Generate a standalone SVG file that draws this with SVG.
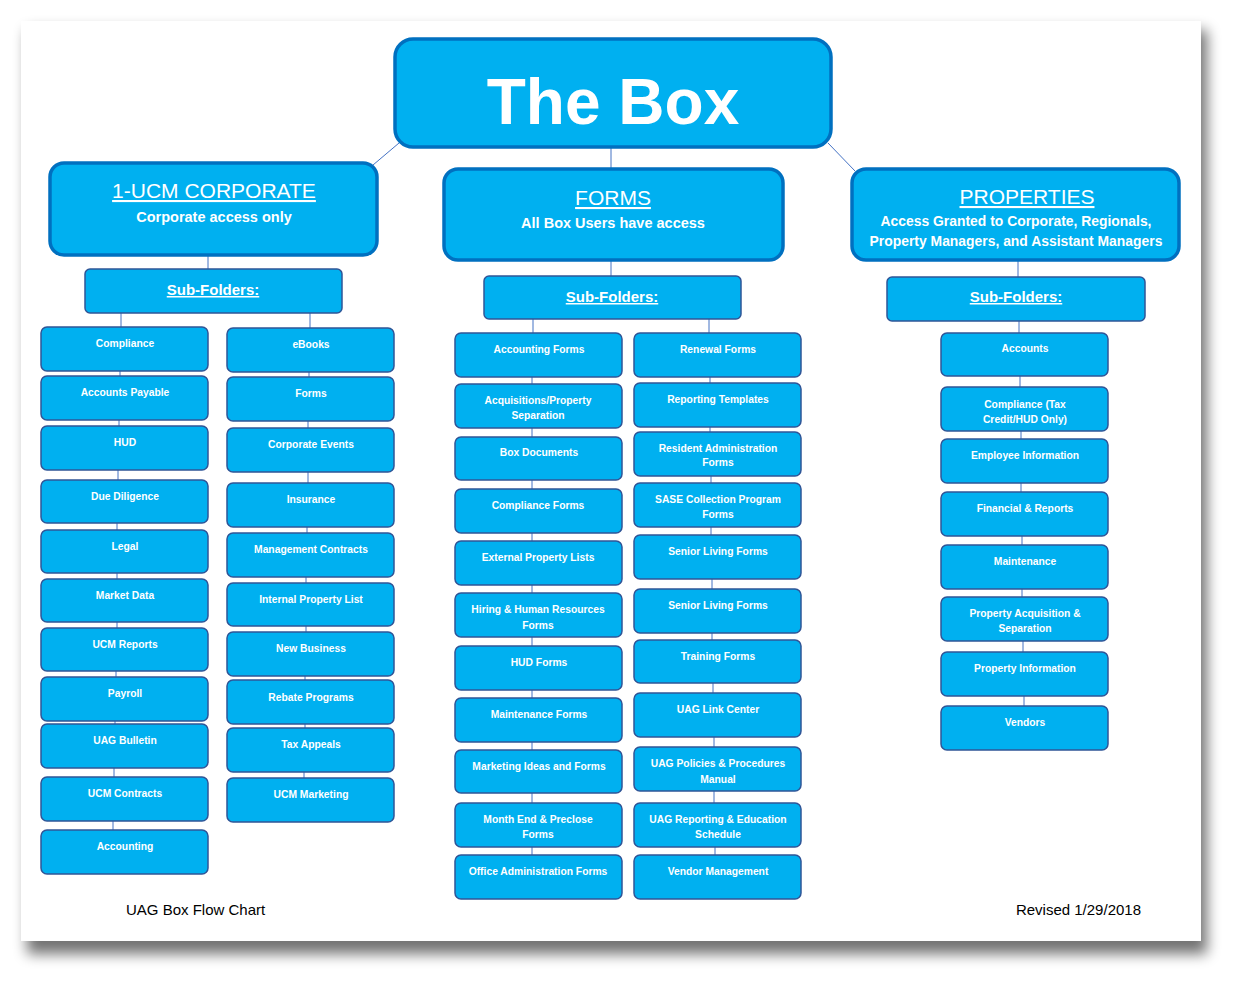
<svg xmlns="http://www.w3.org/2000/svg" width="1243" height="984" viewBox="0 0 1243 984">
<style>
.big{fill:#00b0f0;stroke:#0070c0;stroke-width:3.5}
.sub{fill:#00b0f0;stroke:#2f5597;stroke-width:1.5}
.leaf{fill:#00b0f0;stroke:#2f5597;stroke-width:1.5}
.t{font-family:"Liberation Sans",Arial,sans-serif;fill:#ffffff;text-anchor:middle;font-weight:bold}
.lt{font-size:10.3px}
.hd{font-size:21px;font-weight:normal;text-decoration:underline}
.ds{font-size:14.5px}
.dp{font-size:13.9px}
.sf{font-size:15px;text-decoration:underline}
.ft{font-family:"Liberation Sans",Arial,sans-serif;font-size:15px;fill:#000000}
.c{stroke:#4472c4;stroke-width:1;fill:none}
</style>
<defs>
<filter id="sh" x="-10%" y="-10%" width="120%" height="120%">
<feGaussianBlur stdDeviation="7"/>
</filter>
</defs>
<rect width="1243" height="984" fill="#ffffff"/>
<rect x="27" y="30" width="1180" height="924" fill="#000000" opacity="0.55" filter="url(#sh)"/>
<rect x="21" y="21" width="1180" height="920" fill="#ffffff"/>

<g id="connectors">
<line class="c" x1="399" y1="143" x2="373" y2="165"/>
<line class="c" x1="828" y1="143" x2="855" y2="171"/>
<line class="c" x1="611" y1="147" x2="611" y2="168"/>
<line class="c" x1="208" y1="256" x2="208" y2="269"/>
<line class="c" x1="611" y1="261" x2="611" y2="276"/>
<line class="c" x1="1018" y1="261" x2="1018" y2="277"/>
<line class="c" x1="121" y1="313" x2="121" y2="327"/>
<line class="c" x1="120" y1="371" x2="120" y2="376"/>
<line class="c" x1="119" y1="420" x2="119" y2="426"/>
<line class="c" x1="118" y1="470" x2="118" y2="480"/>
<line class="c" x1="117" y1="523" x2="117" y2="530"/>
<line class="c" x1="117" y1="573" x2="117" y2="579"/>
<line class="c" x1="117" y1="622" x2="117" y2="628"/>
<line class="c" x1="116" y1="671" x2="116" y2="677"/>
<line class="c" x1="115" y1="721" x2="115" y2="724"/>
<line class="c" x1="114" y1="768" x2="114" y2="777"/>
<line class="c" x1="113" y1="821" x2="113" y2="830"/>
<line class="c" x1="310" y1="313" x2="310" y2="328"/>
<line class="c" x1="309" y1="372" x2="309" y2="377"/>
<line class="c" x1="308" y1="421" x2="308" y2="428"/>
<line class="c" x1="308" y1="472" x2="308" y2="483"/>
<line class="c" x1="307" y1="527" x2="307" y2="533"/>
<line class="c" x1="306" y1="577" x2="306" y2="583"/>
<line class="c" x1="306" y1="626" x2="306" y2="632"/>
<line class="c" x1="305" y1="676" x2="305" y2="680"/>
<line class="c" x1="305" y1="724" x2="305" y2="728"/>
<line class="c" x1="304" y1="772" x2="304" y2="778"/>
<line class="c" x1="533" y1="319" x2="533" y2="333"/>
<line class="c" x1="532" y1="377" x2="532" y2="384"/>
<line class="c" x1="532" y1="428" x2="532" y2="437"/>
<line class="c" x1="532" y1="480" x2="532" y2="489"/>
<line class="c" x1="532" y1="533" x2="532" y2="541"/>
<line class="c" x1="532" y1="585" x2="532" y2="593"/>
<line class="c" x1="532" y1="637" x2="532" y2="646"/>
<line class="c" x1="532" y1="690" x2="532" y2="698"/>
<line class="c" x1="532" y1="742" x2="532" y2="750"/>
<line class="c" x1="532" y1="793" x2="532" y2="803"/>
<line class="c" x1="532" y1="847" x2="532" y2="855"/>
<line class="c" x1="709" y1="319" x2="709" y2="333"/>
<line class="c" x1="710" y1="377" x2="710" y2="383"/>
<line class="c" x1="710" y1="427" x2="710" y2="432"/>
<line class="c" x1="711" y1="476" x2="711" y2="483"/>
<line class="c" x1="711" y1="527" x2="711" y2="535"/>
<line class="c" x1="712" y1="579" x2="712" y2="589"/>
<line class="c" x1="712" y1="633" x2="712" y2="640"/>
<line class="c" x1="713" y1="683" x2="713" y2="693"/>
<line class="c" x1="714" y1="737" x2="714" y2="747"/>
<line class="c" x1="714" y1="791" x2="714" y2="803"/>
<line class="c" x1="715" y1="847" x2="715" y2="855"/>
<line class="c" x1="1019" y1="321" x2="1019" y2="333"/>
<line class="c" x1="1020" y1="376" x2="1020" y2="387"/>
<line class="c" x1="1021" y1="431" x2="1021" y2="439"/>
<line class="c" x1="1021" y1="483" x2="1021" y2="492"/>
<line class="c" x1="1022" y1="536" x2="1022" y2="545"/>
<line class="c" x1="1022" y1="589" x2="1022" y2="597"/>
<line class="c" x1="1023" y1="641" x2="1023" y2="652"/>
<line class="c" x1="1024" y1="696" x2="1024" y2="706"/>
</g>

<g id="the-box">
<rect class="big" x="395" y="39" width="436" height="108" rx="18"/>
<text class="t" x="613" y="124" font-size="64">The Box</text>
</g>

<g id="corporate">
<rect class="big" x="50" y="163" width="327" height="92" rx="14"/>
<text class="t hd" x="214" y="198">1-UCM CORPORATE</text>
<text class="t ds" x="214" y="222">Corporate access only</text>
</g>
<g id="forms">
<rect class="big" x="444" y="169" width="339" height="91" rx="14"/>
<text class="t hd" x="613" y="205">FORMS</text>
<text class="t ds" x="613" y="228">All Box Users have access</text>
</g>
<g id="properties">
<rect class="big" x="852" y="169" width="327" height="91" rx="14"/>
<text class="t hd" x="1027" y="204">PROPERTIES</text>
<text class="t dp" x="1016" y="226">Access Granted to Corporate, Regionals,</text>
<text class="t dp" x="1016" y="246">Property Managers, and Assistant Managers</text>
</g>

<g id="corp-subfolders">
<rect class="sub" x="85" y="269" width="257" height="44" rx="5"/>
<text class="t sf" x="213" y="295">Sub-Folders:</text>
</g>
<g id="forms-subfolders">
<rect class="sub" x="484" y="276" width="257" height="43" rx="5"/>
<text class="t sf" x="612" y="302">Sub-Folders:</text>
</g>
<g id="props-subfolders">
<rect class="sub" x="887" y="277" width="258" height="44" rx="5"/>
<text class="t sf" x="1016" y="302">Sub-Folders:</text>
</g>

<g id="c-compliance"><rect class="leaf" x="41" y="327" width="167" height="44" rx="6"/><text class="t lt" x="125" y="347">Compliance</text></g>
<g id="c-accounts-payable"><rect class="leaf" x="41" y="376" width="167" height="44" rx="6"/><text class="t lt" x="125" y="396">Accounts Payable</text></g>
<g id="c-hud"><rect class="leaf" x="41" y="426" width="167" height="44" rx="6"/><text class="t lt" x="125" y="446">HUD</text></g>
<g id="c-due-diligence"><rect class="leaf" x="41" y="480" width="167" height="43" rx="6"/><text class="t lt" x="125" y="500">Due Diligence</text></g>
<g id="c-legal"><rect class="leaf" x="41" y="530" width="167" height="43" rx="6"/><text class="t lt" x="125" y="550">Legal</text></g>
<g id="c-market-data"><rect class="leaf" x="41" y="579" width="167" height="43" rx="6"/><text class="t lt" x="125" y="599">Market Data</text></g>
<g id="c-ucm-reports"><rect class="leaf" x="41" y="628" width="167" height="43" rx="6"/><text class="t lt" x="125" y="648">UCM Reports</text></g>
<g id="c-payroll"><rect class="leaf" x="41" y="677" width="167" height="44" rx="6"/><text class="t lt" x="125" y="697">Payroll</text></g>
<g id="c-uag-bulletin"><rect class="leaf" x="41" y="724" width="167" height="44" rx="6"/><text class="t lt" x="125" y="744">UAG Bulletin</text></g>
<g id="c-ucm-contracts"><rect class="leaf" x="41" y="777" width="167" height="44" rx="6"/><text class="t lt" x="125" y="797">UCM Contracts</text></g>
<g id="c-accounting"><rect class="leaf" x="41" y="830" width="167" height="44" rx="6"/><text class="t lt" x="125" y="850">Accounting</text></g>

<g id="c-ebooks"><rect class="leaf" x="227" y="328" width="167" height="44" rx="6"/><text class="t lt" x="311" y="348">eBooks</text></g>
<g id="c-forms"><rect class="leaf" x="227" y="377" width="167" height="44" rx="6"/><text class="t lt" x="311" y="397">Forms</text></g>
<g id="c-corporate-events"><rect class="leaf" x="227" y="428" width="167" height="44" rx="6"/><text class="t lt" x="311" y="448">Corporate Events</text></g>
<g id="c-insurance"><rect class="leaf" x="227" y="483" width="167" height="44" rx="6"/><text class="t lt" x="311" y="503">Insurance</text></g>
<g id="c-management-contracts"><rect class="leaf" x="227" y="533" width="167" height="44" rx="6"/><text class="t lt" x="311" y="553">Management Contracts</text></g>
<g id="c-internal-property-list"><rect class="leaf" x="227" y="583" width="167" height="43" rx="6"/><text class="t lt" x="311" y="603">Internal Property List</text></g>
<g id="c-new-business"><rect class="leaf" x="227" y="632" width="167" height="44" rx="6"/><text class="t lt" x="311" y="652">New Business</text></g>
<g id="c-rebate-programs"><rect class="leaf" x="227" y="680" width="167" height="44" rx="6"/><text class="t lt" x="311" y="701">Rebate Programs</text></g>
<g id="c-tax-appeals"><rect class="leaf" x="227" y="728" width="167" height="44" rx="6"/><text class="t lt" x="311" y="748">Tax Appeals</text></g>
<g id="c-ucm-marketing"><rect class="leaf" x="227" y="778" width="167" height="44" rx="6"/><text class="t lt" x="311" y="798">UCM Marketing</text></g>

<g id="f-accounting-forms"><rect class="leaf" x="455" y="333" width="167" height="44" rx="6"/><text class="t lt" x="539" y="353">Accounting Forms</text></g>
<g id="f-acquisitions"><rect class="leaf" x="455" y="384" width="167" height="44" rx="6"/><text class="t lt" x="538" y="404">Acquisitions/Property</text><text class="t lt" x="538" y="419">Separation</text></g>
<g id="f-box-documents"><rect class="leaf" x="455" y="437" width="167" height="43" rx="6"/><text class="t lt" x="539" y="456">Box Documents</text></g>
<g id="f-compliance-forms"><rect class="leaf" x="455" y="489" width="167" height="44" rx="6"/><text class="t lt" x="538" y="509">Compliance Forms</text></g>
<g id="f-external-property-lists"><rect class="leaf" x="455" y="541" width="167" height="44" rx="6"/><text class="t lt" x="538" y="561">External Property Lists</text></g>
<g id="f-hiring"><rect class="leaf" x="455" y="593" width="167" height="44" rx="6"/><text class="t lt" x="538" y="613">Hiring &amp; Human Resources</text><text class="t lt" x="538" y="629">Forms</text></g>
<g id="f-hud-forms"><rect class="leaf" x="455" y="646" width="167" height="44" rx="6"/><text class="t lt" x="539" y="666">HUD Forms</text></g>
<g id="f-maintenance-forms"><rect class="leaf" x="455" y="698" width="167" height="44" rx="6"/><text class="t lt" x="539" y="718">Maintenance Forms</text></g>
<g id="f-marketing"><rect class="leaf" x="455" y="750" width="167" height="43" rx="6"/><text class="t lt" x="539" y="770">Marketing Ideas and Forms</text></g>
<g id="f-month-end"><rect class="leaf" x="455" y="803" width="167" height="44" rx="6"/><text class="t lt" x="538" y="823">Month End &amp; Preclose</text><text class="t lt" x="538" y="838">Forms</text></g>
<g id="f-office-admin"><rect class="leaf" x="455" y="855" width="167" height="44" rx="6"/><text class="t lt" x="538" y="875">Office Administration Forms</text></g>

<g id="f-renewal-forms"><rect class="leaf" x="634" y="333" width="167" height="44" rx="6"/><text class="t lt" x="718" y="353">Renewal Forms</text></g>
<g id="f-reporting-templates"><rect class="leaf" x="634" y="383" width="167" height="44" rx="6"/><text class="t lt" x="718" y="403">Reporting Templates</text></g>
<g id="f-resident-admin"><rect class="leaf" x="634" y="432" width="167" height="44" rx="6"/><text class="t lt" x="718" y="452">Resident Administration</text><text class="t lt" x="718" y="466">Forms</text></g>
<g id="f-sase"><rect class="leaf" x="634" y="483" width="167" height="44" rx="6"/><text class="t lt" x="718" y="503">SASE Collection Program</text><text class="t lt" x="718" y="518">Forms</text></g>
<g id="f-senior-living-1"><rect class="leaf" x="634" y="535" width="167" height="44" rx="6"/><text class="t lt" x="718" y="555">Senior Living Forms</text></g>
<g id="f-senior-living-2"><rect class="leaf" x="634" y="589" width="167" height="44" rx="6"/><text class="t lt" x="718" y="609">Senior Living Forms</text></g>
<g id="f-training-forms"><rect class="leaf" x="634" y="640" width="167" height="43" rx="6"/><text class="t lt" x="718" y="660">Training Forms</text></g>
<g id="f-uag-link-center"><rect class="leaf" x="634" y="693" width="167" height="44" rx="6"/><text class="t lt" x="718" y="713">UAG Link Center</text></g>
<g id="f-uag-policies"><rect class="leaf" x="634" y="747" width="167" height="44" rx="6"/><text class="t lt" x="718" y="767">UAG Policies &amp; Procedures</text><text class="t lt" x="718" y="783">Manual</text></g>
<g id="f-uag-reporting"><rect class="leaf" x="634" y="803" width="167" height="44" rx="6"/><text class="t lt" x="718" y="823">UAG Reporting &amp; Education</text><text class="t lt" x="718" y="838">Schedule</text></g>
<g id="f-vendor-management"><rect class="leaf" x="634" y="855" width="167" height="44" rx="6"/><text class="t lt" x="718" y="875">Vendor Management</text></g>

<g id="p-accounts"><rect class="leaf" x="941" y="333" width="167" height="43" rx="6"/><text class="t lt" x="1025" y="352">Accounts</text></g>
<g id="p-compliance"><rect class="leaf" x="941" y="387" width="167" height="44" rx="6"/><text class="t lt" x="1025" y="408">Compliance (Tax</text><text class="t lt" x="1025" y="423">Credit/HUD Only)</text></g>
<g id="p-employee-information"><rect class="leaf" x="941" y="439" width="167" height="44" rx="6"/><text class="t lt" x="1025" y="459">Employee Information</text></g>
<g id="p-financial-reports"><rect class="leaf" x="941" y="492" width="167" height="44" rx="6"/><text class="t lt" x="1025" y="512">Financial &amp; Reports</text></g>
<g id="p-maintenance"><rect class="leaf" x="941" y="545" width="167" height="44" rx="6"/><text class="t lt" x="1025" y="565">Maintenance</text></g>
<g id="p-property-acquisition"><rect class="leaf" x="941" y="597" width="167" height="44" rx="6"/><text class="t lt" x="1025" y="617">Property Acquisition &amp;</text><text class="t lt" x="1025" y="632">Separation</text></g>
<g id="p-property-information"><rect class="leaf" x="941" y="652" width="167" height="44" rx="6"/><text class="t lt" x="1025" y="672">Property Information</text></g>
<g id="p-vendors"><rect class="leaf" x="941" y="706" width="167" height="44" rx="6"/><text class="t lt" x="1025" y="726">Vendors</text></g>

<g id="footer">
<text class="ft" x="126" y="915">UAG Box Flow Chart</text>
<text class="ft" x="1141" y="915" text-anchor="end">Revised 1/29/2018</text>
</g>
</svg>
